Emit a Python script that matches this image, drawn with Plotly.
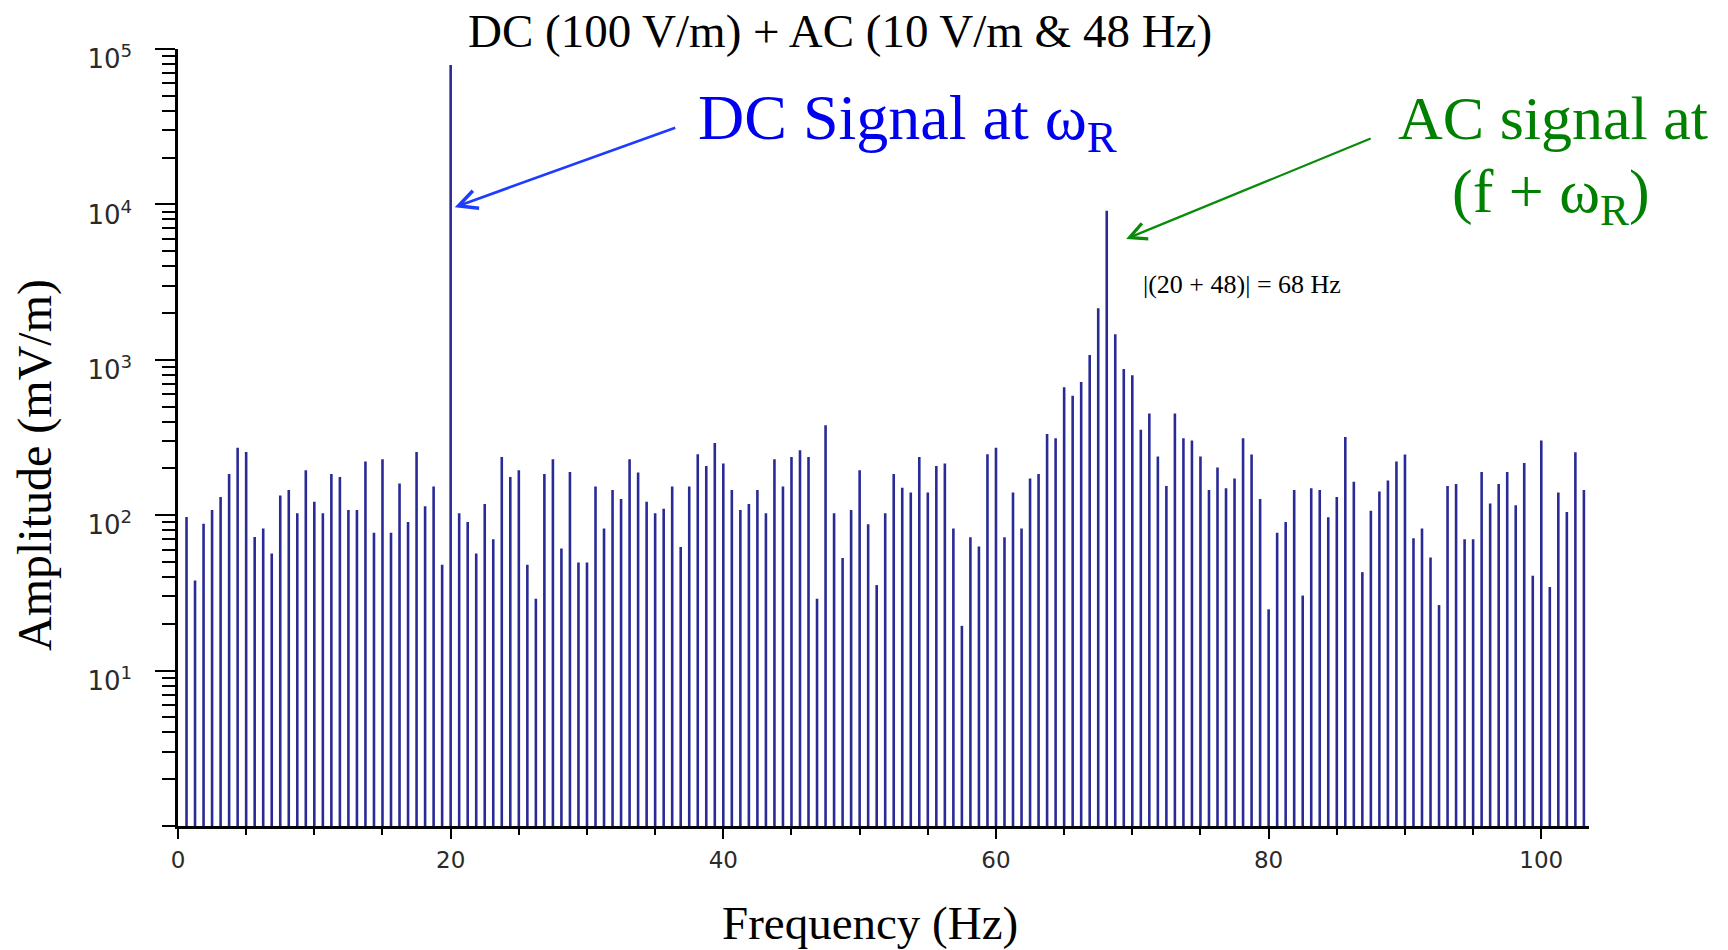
import math
import plotly.graph_objects as go

# ---------------- data ----------------
bin_width_hz = 0.625
bin_index = list(range(1, 166))
amplitude_mv = [
    97.5, 38, 88, 108, 131, 184, 272, 255, 72.5, 82, 56.7, 134, 145, 103, 195, 122,
    103, 184, 176, 108, 108, 222, 77, 229, 77, 160, 90.5, 255, 114, 153, 48,
    79000,
    103, 90.5, 56.7, 118, 70, 237, 176, 195, 48, 29, 184, 229, 61, 190, 49.6,
    49.6, 153, 82, 145, 127, 229, 188, 122, 103, 110, 153, 62.5, 153, 247, 207, 292,
    215, 145, 108, 118, 145, 103, 229, 153, 237, 262, 237, 29, 379, 103, 53, 108,
    195, 87.5, 35.5, 103, 184, 150, 140, 237, 140, 207, 215, 82, 19.4, 72, 63, 247,
    272, 72, 140, 82, 172, 184, 333, 313, 667, 586, 721, 1072, 2147, 9100, 1459, 874,
    794, 355, 451, 239, 154, 451, 313, 303, 239, 145, 203, 149, 172, 313, 246, 127,
    24.8, 77, 90.5, 145, 30.4, 149, 145, 97, 131, 319, 164, 43, 107, 142, 167, 222,
    246, 71, 82, 53.5, 26.4, 154, 159, 70, 70, 190, 119, 159, 190, 116, 217, 40.8,
    303, 34.5, 140, 105, 254, 145,
]
freq_hz = [k * bin_width_hz for k in bin_index]

x_ticks = [0, 20, 40, 60, 80, 100]
y_tick_vals = [10, 100, 1000, 10000, 100000]
y_tick_text = ["10<sup>1</sup>", "10<sup>2</sup>", "10<sup>3</sup>", "10<sup>4</sup>", "10<sup>5</sup>"]
title_text = "DC (100 V/m) + AC (10 V/m &amp; 48 Hz)"
x_title = "Frequency (Hz)"
y_title = "Amplitude (mV/m)"
dc_label = "DC Signal at ω<sub>R</sub>"
ac_label_1 = "AC signal at"
ac_label_2 = "(f + ω<sub>R</sub>)"
small_label = "|(20 + 48)| = 68 Hz"
dc_arrow_tip = (20.3, 9600)
ac_arrow_tip = (69.55, 6000)

# ---------------- stems ----------------
sx, sy = [], []
for f, a in zip(freq_hz, amplitude_mv):
    sx += [f, f, None]
    sy += [1, a, None]

W, H = 1728, 950
L, R, T, B = 178, 139, 49, 124
PW, PH = W - L - R, H - T - B

def px(xp):
    return (xp - L) / PW

def py(yp):
    return (H - B - yp) / PH

fig = go.Figure()
fig.add_trace(go.Scatter(
    x=sx, y=sy, mode="lines",
    line=dict(color="#2a2a96", width=2.6),
    hoverinfo="skip", showlegend=False,
))

serif = "Liberation Serif, Times New Roman, serif"
sans = "DejaVu Sans, Arial, sans-serif"

fig.update_layout(
    width=W, height=H,
    margin=dict(l=L, r=R, t=T, b=B),
    paper_bgcolor="white", plot_bgcolor="white",
    showlegend=False,
    xaxis=dict(
        range=[0, 103.5], showgrid=False, zeroline=False, automargin=False,
        showline=True, linecolor="black", linewidth=2.5,
        ticks="outside", ticklen=10, tickwidth=2, tickcolor="black",
        tickvals=x_ticks, ticktext=[str(v) for v in x_ticks],
        tickfont=dict(family=sans, size=23, color="#2a2a2a"),
        ticklabelstandoff=2,
        minor=dict(dtick=5, tick0=0, ticks="outside", ticklen=6, tickwidth=2, tickcolor="black", showgrid=False),
    ),
    yaxis=dict(
        type="log", range=[0, 5], showgrid=False, zeroline=False, automargin=False,
        showline=True, linecolor="black", linewidth=2.5,
        ticks="outside", ticklen=20, tickwidth=2, tickcolor="black",
        tickmode="array", tickvals=y_tick_vals, ticktext=y_tick_text,
        tickfont=dict(family=sans, size=26, color="#2a2a2a"),
        ticklabelstandoff=18, ticklabelshift=10,
        minor=dict(dtick="D1", ticks="outside", ticklen=13, tickwidth=2, tickcolor="black", showgrid=False),
    ),
)

ann = []
ann.append(dict(text=title_text, xref="paper", yref="paper", x=px(840), y=py(31),
                xanchor="center", yanchor="middle", showarrow=False,
                font=dict(family=serif, size=47, color="black")))
ann.append(dict(text=x_title, xref="paper", yref="paper", x=px(870), y=py(923),
                xanchor="center", yanchor="middle", showarrow=False,
                font=dict(family=serif, size=47, color="black")))
ann.append(dict(text=y_title, xref="paper", yref="paper", x=px(35), y=py(465),
                xanchor="center", yanchor="middle", showarrow=False, textangle=-90,
                font=dict(family=serif, size=48, color="black")))
ann.append(dict(text=dc_label, xref="paper", yref="paper", x=px(696), y=py(122),
                xanchor="left", yanchor="middle", showarrow=False,
                font=dict(family=serif, size=64, color="#0000f0")))
ann.append(dict(text=ac_label_1, xref="paper", yref="paper", x=px(1553), y=py(118),
                xanchor="center", yanchor="middle", showarrow=False,
                font=dict(family=serif, size=62, color="#008000")))
ann.append(dict(text=ac_label_2, xref="paper", yref="paper", x=px(1551), y=py(195),
                xanchor="center", yanchor="middle", showarrow=False,
                font=dict(family=serif, size=62, color="#008000")))
ann.append(dict(text=small_label, xref="paper", yref="paper", x=px(1141), y=py(284),
                xanchor="left", yanchor="middle", showarrow=False,
                font=dict(family=serif, size=26, color="black")))
# arrows
ann.append(dict(text="", x=dc_arrow_tip[0], y=math.log10(dc_arrow_tip[1]), xref="x", yref="y",
                ax=222, ay=-80, showarrow=True, arrowhead=5, arrowsize=1.4, arrowwidth=2.6,
                arrowcolor="#1e3cff", standoff=0))
ann.append(dict(text="", x=ac_arrow_tip[0], y=math.log10(ac_arrow_tip[1]), xref="x", yref="y",
                ax=246, ay=-101, showarrow=True, arrowhead=5, arrowsize=1.5, arrowwidth=2.2,
                arrowcolor="#0a8a0a", standoff=0))
fig.update_layout(annotations=ann)

fig.write_html("out.html")
